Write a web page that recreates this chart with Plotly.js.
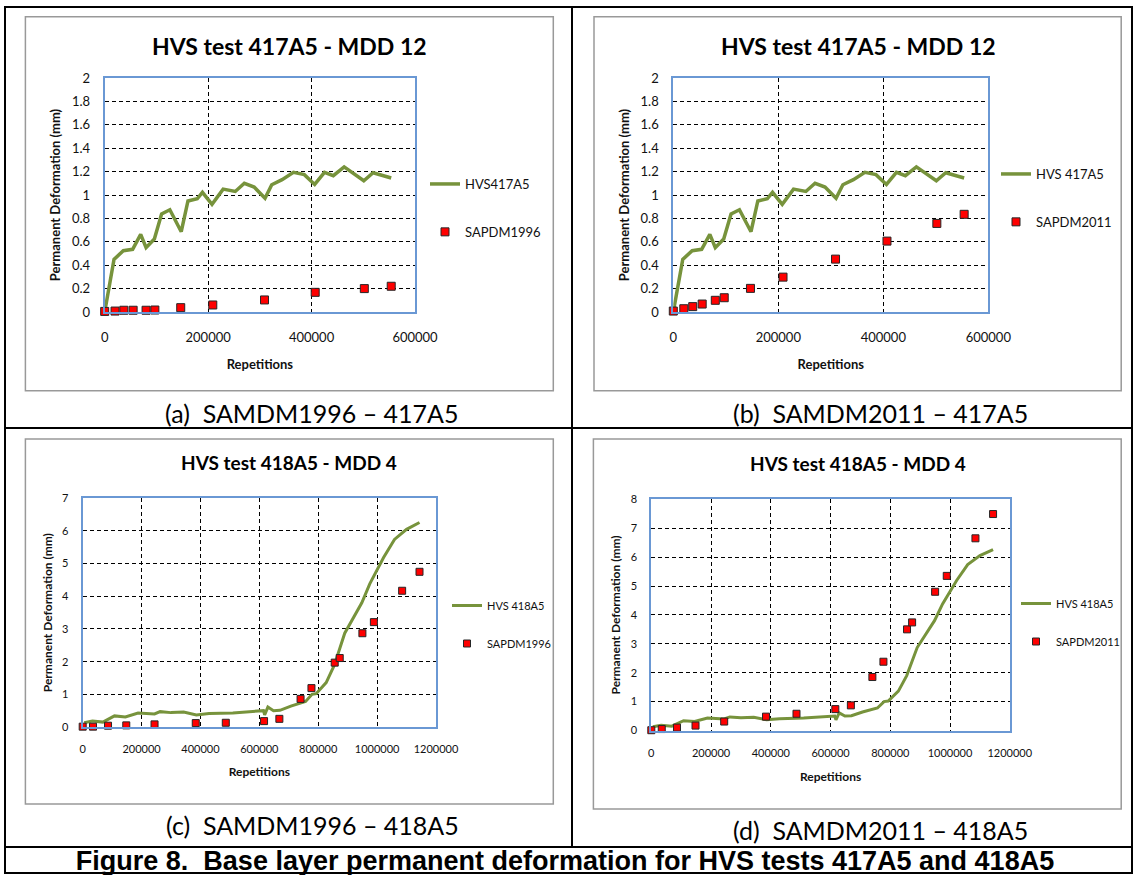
<!DOCTYPE html>
<html><head><meta charset="utf-8">
<script src="https://cdn.plot.ly/plotly-3.0.1.min.js"></script>
<style>html,body{margin:0;padding:0;background:#fff}#chart{width:1135px;height:875px}</style>
</head><body><div id="chart"></div>
<script>
// ---------- DATA ----------
// HVS 417A5 measured base-layer permanent deformation (MDD 12)
const hvs417Reps = [0,18000,36000,54000,69600,80000,96000,110000,126000,148000,161000,179000,189000,207500,229000,252500,270000,289000,310000,323000,343000,365000,386000,406000,425000,442000,463000,501000,519000,554000];
const hvs417Def  = [0,0.45,0.524,0.536,0.664,0.55,0.624,0.838,0.874,0.686,0.949,0.968,1.023,0.92,1.05,1.03,1.10,1.068,0.972,1.088,1.131,1.194,1.174,1.09,1.193,1.165,1.24,1.122,1.19,1.145];
// Model predictions, 417A5
const model417Reps = [0,20000,37000,55000,80000,97000,147000,209000,309000,407000,502000,554000];
const sapdm1996_417 = [0.005,0.008,0.015,0.015,0.015,0.017,0.037,0.06,0.103,0.168,0.2,0.22];
const sapdm2011_417 = [0.008,0.028,0.046,0.068,0.1,0.122,0.202,0.298,0.452,0.606,0.757,0.835];
// HVS 418A5 measured (MDD 4)
const hvs418Reps = [5000,33000,68500,108000,145000,188000,244000,263000,300000,343000,386000,429000,510000,577000,614000,618000,629000,648000,670000,707000,757000,779000,793000,827000,855000,890000,917000,948000,975000,1004000,1022000,1059000,1100000,1144000];
const hvs418Def  = [0.13,0.18,0.15,0.34,0.31,0.43,0.40,0.47,0.44,0.46,0.37,0.41,0.43,0.49,0.50,0.37,0.61,0.50,0.51,0.64,0.78,1.0,1.02,1.36,1.90,2.87,3.30,3.80,4.38,4.91,5.19,5.74,6.05,6.26];
// Model predictions, 418A5
const model418Reps = [0,35000,86000,148000,244000,384000,486000,616000,668000,740000,777000,856000,873000,950000,989000,1085000,1144000];
const sapdm1996_418 = [0.01,0.01,0.04,0.05,0.08,0.12,0.13,0.18,0.25,0.86,1.19,1.97,2.11,2.87,3.21,4.17,4.75];
const sapdm2011_418 = [0.01,0.05,0.10,0.17,0.31,0.48,0.58,0.74,0.87,1.85,2.38,3.50,3.74,4.80,5.35,6.65,7.49];
// Ticks
const xTicks417 = [0,200000,400000,600000];
const xTickText417 = ["0","200000","400000","600000"];
const yTicks417 = [0,0.2,0.4,0.6,0.8,1,1.2,1.4,1.6,1.8,2];
const yTickText417 = ["0","0.2","0.4","0.6","0.8","1","1.2","1.4","1.6","1.8","2"];
const xTicks418 = [0,200000,400000,600000,800000,1000000,1200000];
const xTickText418 = ["0","200000","400000","600000","800000","1000000","1200000"];
const yTicks418c = [0,1,2,3,4,5,6,7];
const yTicks418d = [0,1,2,3,4,5,6,7,8];
// Texts
const chartTitles = ["HVS test 417A5 - MDD 12","HVS test 417A5 - MDD 12","HVS test 418A5 - MDD 4","HVS test 418A5 - MDD 4"];
const panelCaptions = ["(a)\u00a0 SAMDM1996 \u2013 417A5","(b)\u00a0 SAMDM2011 \u2013 417A5","(c)\u00a0 SAMDM1996 \u2013 418A5","(d)\u00a0 SAMDM2011 \u2013 418A5"];
const figureCaption = "Figure 8.\u00a0 Base layer permanent deformation for HVS tests 417A5 and 418A5";
const xTitle = "Repetitions";
const yTitle = "Permanent Deformation (mm)";

// ---------- LAYOUT HELPERS ----------
const W = 1135, H = 875;
const px = x => x / W;
const py = y => 1 - y / H;
const GREEN = '#77933C';
const BLUE = '#6A98D4';
const FONT = 'Lato, "Open Sans", sans-serif';

function lineTrace(x, y, name, ax, lg, w) {
  return {x, y, name, type:'scatter', mode:'lines', xaxis:'x'+ax, yaxis:'y'+ax,
    legend: lg, legendgroup: lg+'a',
    line:{color:GREEN, width:w}, cliponaxis:false, hoverinfo:'skip'};
}
function markTrace(x, y, name, ax, lg, s) {
  return {x, y, name, type:'scatter', mode:'markers', xaxis:'x'+ax, yaxis:'y'+ax,
    legend: lg, legendgroup: lg+'b',
    marker:{symbol:'square', color:'#FF0000', size:s, line:{color:'#262626', width:1}},
    cliponaxis:false, hoverinfo:'skip'};
}

const data = [
  lineTrace(hvs417Reps, hvs417Def, 'HVS417A5', '', 'legend', 3.5),
  markTrace(model417Reps, sapdm1996_417, 'SAPDM1996', '', 'legend', 8),
  lineTrace(hvs417Reps, hvs417Def, 'HVS 417A5', '2', 'legend2', 3.5),
  markTrace(model417Reps, sapdm2011_417, 'SAPDM2011', '2', 'legend2', 8),
  lineTrace(hvs418Reps, hvs418Def, 'HVS 418A5', '3', 'legend3', 3),
  markTrace(model418Reps, sapdm1996_418, 'SAPDM1996', '3', 'legend3', 7),
  lineTrace(hvs418Reps, hvs418Def, 'HVS 418A5', '4', 'legend4', 3),
  markTrace(model418Reps, sapdm2011_418, 'SAPDM2011', '4', 'legend4', 7)
];

function xAxis(dom, range, tv, tt, fs, tfs, standoff, lstand) {
  return {domain:[px(dom[0]), px(dom[1])], range, tickvals:tv, ticktext:tt,
    showgrid:true, gridcolor:'#000', griddash:'4px,3px', gridwidth:1,
    zeroline:false, showline:true, mirror:true, linecolor:BLUE, linewidth:2,
    ticks:'', ticklabelstandoff:lstand, tickfont:{family:FONT, size:fs, color:'#111'},
    title:{text:xTitle, standoff, font:{family:FONT, size:tfs, weight:'bold', color:'#111'}},
    fixedrange:true};
}
function yAxis(dom, range, tv, tt, fs, tfs, standoff, lstand, anchor) {
  return {domain:[py(dom[1]), py(dom[0])], range, tickvals:tv, ticktext:tt, anchor,
    showgrid:true, gridcolor:'#000', griddash:'4px,3px', gridwidth:1,
    zeroline:false, showline:true, mirror:true, linecolor:BLUE, linewidth:2,
    ticks:'', ticklabelstandoff:lstand, tickfont:{family:FONT, size:fs, color:'#111'},
    title:{text:yTitle, standoff, font:{family:FONT, size:tfs, weight:'bold', color:'#111'}},
    fixedrange:true};
}

// plot-area pixel boxes [x0,x1], [y0,y1]
const P = [
  {x:[104.7,415], y:[78,312]},
  {x:[673.3,988.3], y:[78,312]},
  {x:[82.7,436], y:[498.3,727]},
  {x:[651.3,1009.8], y:[499.3,730.5]}
];

function legend(lx, ly, fs, gap) {
  return {x:px(lx), y:py(ly), xanchor:'left', yanchor:'top', bgcolor:'rgba(0,0,0,0)',
    borderwidth:0, font:{family:FONT, size:fs, color:'#111'}, traceorder:'grouped',
    tracegroupgap:gap, itemwidth:30};
}

const shapes = [];
function rect(x0,y0,x1,y1,color,w){
  shapes.push({type:'rect', xref:'paper', yref:'paper', x0:px(x0), x1:px(x1), y0:py(y1), y1:py(y0),
    line:{color, width:w}, fillcolor:'rgba(0,0,0,0)', layer:'below'});
}
function line(x0,y0,x1,y1,color,w){
  shapes.push({type:'line', xref:'paper', yref:'paper', x0:px(x0), x1:px(x1), y0:py(y0), y1:py(y1),
    line:{color, width:w}, layer:'below'});
}
// table frame
rect(5,7,1132,873,'#000',2);
line(572,7,572,847,'#000',2);
line(5,428,1132,428,'#000',2);
line(5,847,1132,847,'#000',2);
// chart-area boxes
rect(25.4,16.7,553.3,390.7,'#999',1.5);
rect(594,16.7,1121.2,390.7,'#999',1.5);
rect(25.4,439,553.3,804,'#999',1.5);
rect(593.4,439,1121.2,809,'#999',1.5);

const annotations = [];
function ann(text, x, y, size, bold, family){
  annotations.push({text, xref:'paper', yref:'paper', x:px(x), y:py(y), xanchor:'center', yanchor:'middle',
    showarrow:false, font:{family: family||FONT, size, color:'#000', weight: bold?'bold':'normal'}});
}
ann(chartTitles[0], 289.7, 46, 23, true);
ann(chartTitles[1], 858.4, 46, 23, true);
ann(chartTitles[2], 289, 462, 19, true);
ann(chartTitles[3], 857.6, 463, 19, true);
ann(panelCaptions[0], 312, 413, 25, false);
ann(panelCaptions[1], 880, 413, 25, false);
ann(panelCaptions[2], 312, 825, 25, false);
ann(panelCaptions[3], 880, 830, 25, false);

const layout = {
  width:W, height:H, margin:{l:0,r:0,t:0,b:0}, paper_bgcolor:'#fff', plot_bgcolor:'rgba(0,0,0,0)',
  font:{family:FONT, color:'#111'},
  title:{text:figureCaption, x:0.4978, xref:'container', y:py(861), yref:'container', xanchor:'center', yanchor:'middle',
    font:{family:'"Liberation Sans", Arial, sans-serif', size:27, weight:'bold', color:'#000'}},
  xaxis:  xAxis(P[0].x,[0,600000],xTicks417,xTickText417,13,13,16,12),
  yaxis:  yAxis(P[0].y,[0,2],yTicks417,yTickText417,13,13,8,10,'x'),
  xaxis2: xAxis(P[1].x,[0,600000],xTicks417,xTickText417,13,13,16,12),
  yaxis2: yAxis(P[1].y,[0,2],yTicks417,yTickText417,13,13,8,10,'x2'),
  xaxis3: xAxis(P[2].x,[0,1200000],xTicks418,xTickText418,11,12,13,11),
  yaxis3: yAxis(P[2].y,[0,7],yTicks418c,yTicks418c.map(String),11,12,7,10,'x3'),
  xaxis4: xAxis(P[3].x,[0,1200000],xTicks418,xTickText418,11,12,15,11),
  yaxis4: yAxis(P[3].y,[0,8],yTicks418d,yTicks418d.map(String),11,12,7,10,'x4'),
  legend:  legend(425, 169, 13, 28),
  legend2: legend(996, 159, 13, 28),
  legend3: legend(447, 591, 11, 19),
  legend4: legend(1016, 589, 11, 19),
  shapes, annotations, showlegend:true
};
layout.xaxis.anchor='y'; layout.xaxis2.anchor='y2'; layout.xaxis3.anchor='y3'; layout.xaxis4.anchor='y4';

Plotly.newPlot('chart', data, layout, {displayModeBar:false, staticPlot:true});
</script></body></html>
